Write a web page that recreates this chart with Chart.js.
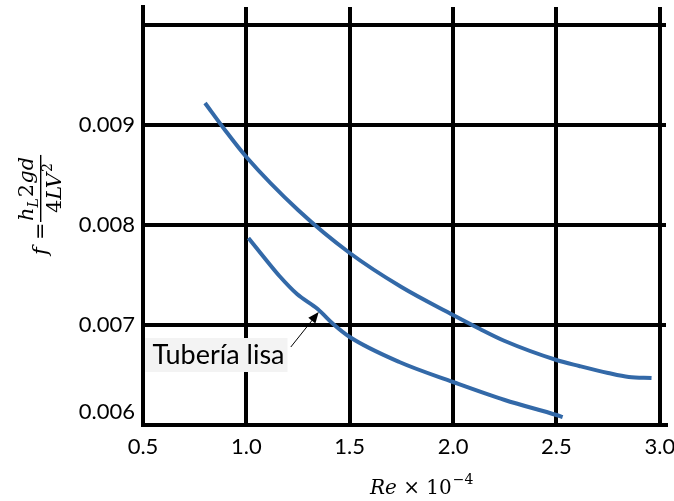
<!DOCTYPE html>
<html>
<head>
<meta charset="utf-8">
<script src="https://cdn.jsdelivr.net/npm/chart.js@4.4.0/dist/chart.umd.min.js"></script>
<style>
html, body { margin: 0; padding: 0; background: #fff; }
#wrap { width: 674px; height: 501px; }
</style>
</head>
<body>
<div id="wrap"><canvas id="chart"></canvas></div>
<script>
// curva superior
var upperX = [0.80, 0.90, 1.00, 1.25, 1.50, 1.75, 2.00, 2.13, 2.25, 2.50, 2.61, 2.75, 2.85, 2.96];
var upperY = [0.00922, 0.00894, 0.00868, 0.00815, 0.00772, 0.00738, 0.00710, 0.00696, 0.00684, 0.00665, 0.00659, 0.00652, 0.00648, 0.00647];

// tubería lisa
var lisaX = [1.01, 1.08, 1.16, 1.245, 1.345, 1.42, 1.50, 1.74, 2.00, 2.25, 2.50, 2.53];
var lisaY = [0.00787, 0.00769, 0.00749, 0.00731, 0.00716, 0.00701, 0.00688, 0.00663, 0.00643, 0.00625, 0.00610, 0.00608];

var xTickLabels = ['0.5', '1.0', '1.5', '2.0', '2.5', '3.0'];
var yTickLabels = ['0.006', '0.007', '0.008', '0.009'];

var lineColor = '#3369a8';

function toPoints(xs, ys) {
    return xs.map(function(x, i) { return {x: x, y: ys[i]}; });
}

// etiqueta con flecha
var annotationPlugin = {
    id: 'lisaLabel',
    afterDatasetsDraw: function(chart) {
        var ctx = chart.ctx;
        var xs = chart.scales.x, ys = chart.scales.y;
        var tipX = xs.getPixelForValue(1.35), tipY = ys.getPixelForValue(0.00713);
        var tailX = xs.getPixelForValue(1.215), tailY = ys.getPixelForValue(0.00678);
        ctx.save();
        ctx.font = '27px Lato';
        var text = 'Tubería lisa';
        var w = ctx.measureText(text).width;
        var cx = xs.getPixelForValue(0.865), cy = ys.getPixelForValue(0.00670);
        ctx.fillStyle = '#f3f3f3';
        ctx.fillRect(cx - w / 2 - 7, cy - 17, w + 10, 34);
        ctx.fillStyle = '#000';
        ctx.textAlign = 'center';
        ctx.textBaseline = 'middle';
        ctx.fillText(text, cx, cy);
        // flecha
        var ang = Math.atan2(tipY - tailY, tipX - tailX);
        ctx.strokeStyle = '#000';
        ctx.lineWidth = 1;
        ctx.beginPath();
        ctx.moveTo(tailX, tailY);
        ctx.lineTo(tipX - 8 * Math.cos(ang), tipY - 8 * Math.sin(ang));
        ctx.stroke();
        ctx.beginPath();
        ctx.moveTo(tipX, tipY);
        ctx.lineTo(tipX - 11 * Math.cos(ang) + 4.5 * Math.sin(ang), tipY - 11 * Math.sin(ang) - 4.5 * Math.cos(ang));
        ctx.lineTo(tipX - 11 * Math.cos(ang) - 4.5 * Math.sin(ang), tipY - 11 * Math.sin(ang) + 4.5 * Math.cos(ang));
        ctx.closePath();
        ctx.fillStyle = '#000';
        ctx.fill();
        ctx.restore();
    }
};

// títulos de ejes (fórmulas)
var titlesPlugin = {
    id: 'axisTitles',
    afterDraw: function(chart) {
        var ctx = chart.ctx;
        var serif = '"DejaVu Serif"';
        ctx.save();
        ctx.fillStyle = '#000';
        ctx.textBaseline = 'alphabetic';

        // eje x: Re × 10^-4
        var x0 = 370, base = 494;
        ctx.font = 'italic 20px ' + serif;
        ctx.fillText('Re', x0, base);
        x0 += ctx.measureText('Re').width;
        ctx.font = '20px ' + serif;
        ctx.fillText(' \u00d7 10', x0, base);
        x0 += ctx.measureText(' \u00d7 10').width;
        ctx.font = '14px ' + serif;
        ctx.fillText('\u22124', x0 + 1, base - 10);

        // eje y: f = hL 2gd / 4LV^2
        ctx.translate(40, 205);
        ctx.rotate(-Math.PI / 2);
        ctx.font = 'italic 21px ' + serif;
        ctx.fillText('f', -50, 7);
        ctx.font = '21px ' + serif;
        ctx.fillText('=', -35, 7);
        // numerador
        var nx = -16;
        ctx.font = 'italic 21px ' + serif;
        ctx.fillText('h', nx, -7);
        nx += ctx.measureText('h').width;
        ctx.font = 'italic 14px ' + serif;
        ctx.fillText('L', nx, -2);
        nx += ctx.measureText('L').width + 1;
        ctx.font = '21px ' + serif;
        ctx.fillText('2', nx, -7);
        nx += ctx.measureText('2').width;
        ctx.font = 'italic 21px ' + serif;
        ctx.fillText('gd', nx, -7);
        nx += ctx.measureText('gd').width;
        // barra
        ctx.fillRect(-17, 0, nx + 19, 1.4);
        // denominador
        var dx = -8;
        ctx.font = '21px ' + serif;
        ctx.fillText('4', dx, 21);
        dx += ctx.measureText('4').width;
        ctx.font = 'italic 21px ' + serif;
        ctx.fillText('LV', dx, 21);
        dx += ctx.measureText('LV').width;
        ctx.font = '14px ' + serif;
        ctx.fillText('2', dx + 1, 12);
        ctx.restore();
    }
};

var config = {
    type: 'line',
    data: {
        datasets: [{
            data: toPoints(upperX, upperY),
            borderColor: lineColor,
            borderWidth: 4,
            pointRadius: 0,
            cubicInterpolationMode: 'monotone',
            fill: false
        }, {
            data: toPoints(lisaX, lisaY),
            borderColor: lineColor,
            borderWidth: 4,
            pointRadius: 0,
            cubicInterpolationMode: 'monotone',
            fill: false
        }]
    },
    options: {
        responsive: true,
        maintainAspectRatio: false,
        animation: false,
        layout: { padding: { left: 0, right: 8, top: 7, bottom: 0 } },
        plugins: {
            legend: { display: false },
            tooltip: { enabled: false }
        },
        scales: {
            x: {
                type: 'linear',
                min: 0.5,
                max: 3.03,
                afterFit: function(scale) {
                    scale.height = 76;
                    scale.paddingLeft = 0;
                    scale.paddingRight = 0;
                },
                grid: { color: '#000', lineWidth: 4, drawTicks: false },
                border: { color: '#000', width: 4 },
                ticks: {
                    stepSize: 0.5,
                    includeBounds: false,
                    padding: 9,
                    color: '#000',
                    font: { family: 'Lato', size: 22 },
                    maxRotation: 0,
                    callback: function(v) {
                        var i = Math.round((v - 0.5) / 0.5);
                        return xTickLabels[i] !== undefined ? xTickLabels[i] : '';
                    }
                }
            },
            y: {
                type: 'linear',
                min: 0.006,
                max: 0.01018,
                afterFit: function(scale) {
                    scale.width = 143;
                    scale.paddingTop = 0;
                    scale.paddingBottom = 0;
                },
                grid: { color: '#000', lineWidth: 4, drawTicks: false },
                border: { color: '#000', width: 4 },
                ticks: {
                    stepSize: 0.001,
                    includeBounds: false,
                    padding: 8,
                    color: '#000',
                    font: { family: 'Lato', size: 22 },
                    callback: function(v) {
                        var i = Math.round((v - 0.006) / 0.001);
                        var lab = yTickLabels[i];
                        if (lab === undefined) return '';
                        // la etiqueta inferior va un poco más arriba
                        return i === 0 ? [lab, ''] : lab;
                    }
                }
            }
        }
    },
    plugins: [annotationPlugin, titlesPlugin]
};

var ctx = document.getElementById('chart').getContext('2d');
window.myChart = new Chart(ctx, config);
</script>
</body>
</html>
